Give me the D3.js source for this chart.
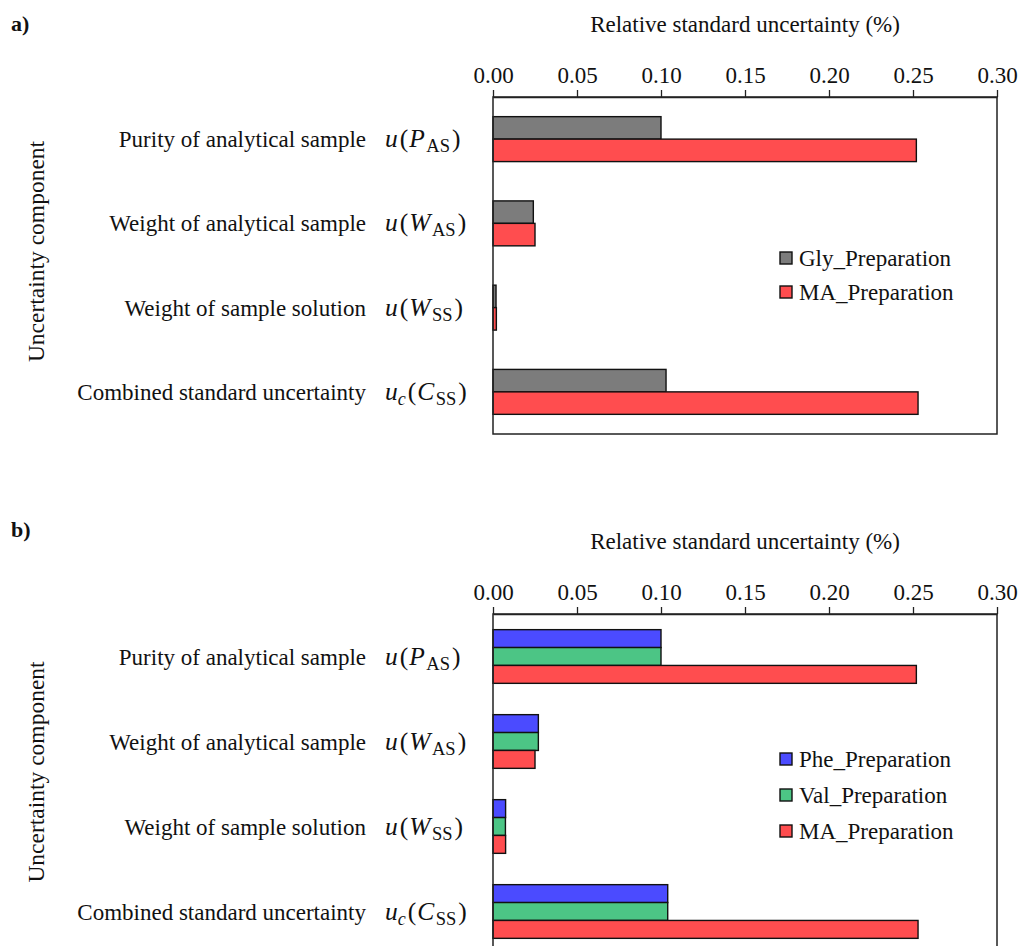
<!DOCTYPE html>
<html>
<head>
<meta charset="utf-8">
<script src="https://cdn.jsdelivr.net/npm/d3@7"></script>
</head>
<body style="margin:0;padding:0;background:#fff">
<svg id="chart" width="1018" height="946"></svg>
<script>
// Uncertainty components (relative standard uncertainty, %)
const components = ["Purity of analytical sample", "Weight of analytical sample",
                    "Weight of sample solution", "Combined standard uncertainty"];
// math symbol for each component: [function symbol, its subscript, variable, variable subscript]
const symbols = [["u", "", "P", "AS"], ["u", "", "W", "AS"], ["u", "", "W", "SS"], ["u", "c", "C", "SS"]];
const xTicks = [0.00, 0.05, 0.10, 0.15, 0.20, 0.25, 0.30];

// Panel a
const glyPrep = [0.100, 0.024, 0.0018, 0.103];
const maPrepA = [0.252, 0.025, 0.0020, 0.253];
// Panel b
const phePrep = [0.100, 0.027, 0.0075, 0.104];
const valPrep = [0.100, 0.027, 0.0074, 0.104];
const maPrepB = [0.252, 0.025, 0.0075, 0.253];

const colors = { gly: "#7c7c7c", ma: "#ff4d4f", phe: "#4b4bff", val: "#4cc585" };
const SERIF = "Liberation Serif";

const svg = d3.select("#chart");
const X0 = 493, X1 = 997;
const x = d3.scaleLinear().domain([0, 0.30]).range([X0, X1]);

function txt(g, size) {
  return g.append("text").style("font-family", SERIF).attr("font-size", size).attr("fill", "#111");
}

function panel(opts) {
  const g = svg.append("g");
  const { top, bottom, series, label, labelY, titleY, legendY } = opts;
  const n = series.length;
  const gap = 1.75;                      // gap between groups, in bar widths
  const p = gap / (n + gap);
  const y = d3.scaleBand().domain(components).range([top, bottom])
    .paddingInner(p).paddingOuter(p / 2);
  const yInner = d3.scaleBand().domain(series.map(s => s.name)).range([0, y.bandwidth()]);

  // bars
  series.forEach(s => {
    g.append("g").selectAll("rect").data(components).join("rect")
      .attr("x", x(0))
      .attr("y", (c) => y(c) + yInner(s.name))
      .attr("width", (c, i) => x(s.values[i]) - x(0))
      .attr("height", yInner.bandwidth())
      .attr("fill", s.color)
      .attr("stroke", "#111")
      .attr("stroke-width", 1.4);
  });

  // frame
  g.append("rect").attr("x", X0).attr("y", top).attr("width", X1 - X0).attr("height", bottom - top)
    .attr("fill", "none").attr("stroke", "#222").attr("stroke-width", 1.5);

  // top axis
  const axis = d3.axisTop(x).tickValues(xTicks).tickFormat(d3.format(".2f"))
    .tickSize(7).tickSizeOuter(0).tickPadding(7);
  const ax = g.append("g").attr("transform", `translate(0,${top})`).call(axis)
    .attr("font-family", SERIF).attr("font-size", 23);
  ax.select(".domain").attr("stroke", "#222").attr("stroke-width", 1.5);
  ax.selectAll(".tick line").attr("stroke", "#222").attr("stroke-width", 1.3);
  ax.selectAll(".tick text").style("font-family", SERIF).attr("fill", "#111");

  // axis title
  txt(g, 23).attr("x", 745).attr("y", titleY).attr("text-anchor", "middle")
    .text("Relative standard uncertainty (%)");

  // y title
  const yc = (top + bottom) / 2 + (opts.yTitleShift || 0);
  txt(g, 23.5).attr("transform", `translate(44,${yc}) rotate(-90)`)
    .attr("text-anchor", "middle").text("Uncertainty component");

  // category labels
  components.forEach((c, i) => {
    const cy = y(c) + y.bandwidth() / 2 + 8;
    txt(g, 23).attr("x", 366).attr("y", cy).attr("text-anchor", "end").text(c);
    const [f, fs, v, vs] = symbols[i];
    const t = txt(g, 25.5).attr("x", 385).attr("y", cy);
    t.append("tspan").attr("font-style", "italic").text(f);
    if (fs) t.append("tspan").attr("font-style", "italic").attr("font-size", 18).attr("dy", 5).text(fs);
    t.append("tspan").attr("dy", fs ? -5 : 0).attr("dx", 2).text("(");
    t.append("tspan").attr("font-style", "italic").attr("dx", 1).text(v);
    t.append("tspan").attr("font-size", 18.5).attr("dy", 5).attr("dx", 1.5).text(vs);
    t.append("tspan").attr("dy", -5).attr("dx", 2).text(")");
  });

  // panel tag
  txt(g, 22).attr("x", 11).attr("y", labelY).attr("font-weight", "bold").text(label);

  // legend
  series.forEach((s, i) => {
    const ly = legendY + i * opts.legendStep;
    g.append("rect").attr("x", 780).attr("y", ly - 6).attr("width", 12).attr("height", 12)
      .attr("fill", s.color).attr("stroke", "#111").attr("stroke-width", 1.4);
    txt(g, 23).attr("x", 799).attr("y", ly + 8).text(s.name);
  });
}

panel({
  top: 97, bottom: 434, label: "a)", labelY: 31, titleY: 32, legendY: 258, legendStep: 34,
  yTitleShift: -14,
  series: [
    { name: "Gly_Preparation", values: glyPrep, color: colors.gly },
    { name: "MA_Preparation", values: maPrepA, color: colors.ma }
  ]
});

panel({
  top: 614, bottom: 954, label: "b)", labelY: 537, titleY: 549, legendY: 759, legendStep: 36,
  yTitleShift: -12,
  series: [
    { name: "Phe_Preparation", values: phePrep, color: colors.phe },
    { name: "Val_Preparation", values: valPrep, color: colors.val },
    { name: "MA_Preparation", values: maPrepB, color: colors.ma }
  ]
});
</script>
</body>
</html>
